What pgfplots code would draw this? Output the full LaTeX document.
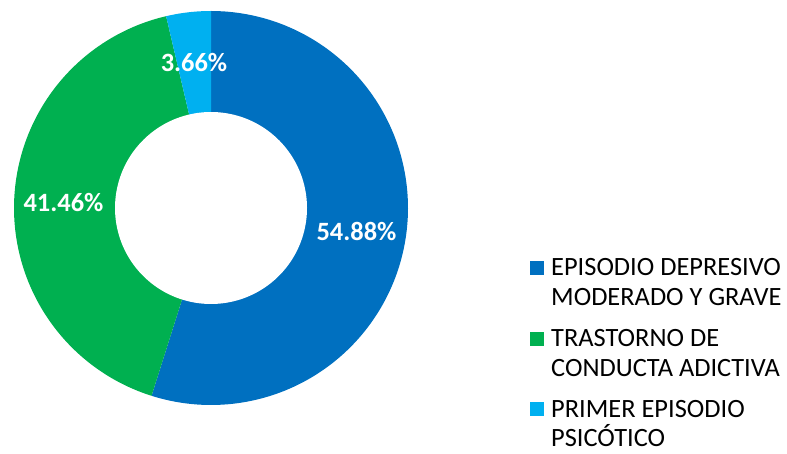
\documentclass[border=0pt]{standalone}
\usepackage{pgfplots}
\usepackage{pgfplotstable}
\usepackage{fontspec}
\setmainfont{Carlito}
\pgfplotsset{compat=1.18}
\definecolor{cblue}{HTML}{0070C0}
\definecolor{cgreen}{HTML}{00B050}
\definecolor{clight}{HTML}{00B0F0}
\pgfplotstableread{
label value
A 54.88
B 41.46
C 3.66
}\piedata
\pgfplotstablegetelem{0}{value}\of\piedata \edef\va{\pgfplotsretval}
\pgfplotstablegetelem{1}{value}\of\piedata \edef\vb{\pgfplotsretval}
\pgfplotstablegetelem{2}{value}\of\piedata \edef\vc{\pgfplotsretval}
\pgfmathsetmacro{\aA}{90}
\pgfmathsetmacro{\aB}{90-3.6*\va}
\pgfmathsetmacro{\aC}{\aB-3.6*\vb}
\pgfmathsetmacro{\aD}{\aC-3.6*\vc}
\begin{document}
\begin{tikzpicture}
\begin{axis}[
  scale only axis, width=787bp, height=454bp,
  xmin=0, xmax=787, ymin=0, ymax=454,
  axis lines=none, clip=false,
]
\addplot[draw=none, fill=cblue, domain=\aB:\aA, samples=150, variable=\t]
  ({211+197*cos(t)},{246+197*sin(t)}) -- (axis cs:211,246) -- cycle;
\addplot[draw=none, fill=cgreen, domain=\aC:\aB, samples=150, variable=\t]
  ({211+197*cos(t)},{246+197*sin(t)}) -- (axis cs:211,246) -- cycle;
\addplot[draw=none, fill=clight, domain=\aD:\aC, samples=30, variable=\t]
  ({211+197*cos(t)},{246+197*sin(t)}) -- (axis cs:211,246) -- cycle;
\addplot[draw=none, fill=white, domain=0:360, samples=180, variable=\t]
  ({211+96*cos(t)},{246+96*sin(t)}) -- cycle;
\begin{scope}[every node/.style={font=\fontsize{26.5}{30}\selectfont\bfseries, text=white, inner sep=0pt}]
\node at (axis cs:356.5,223) {54.88\%};
\node at (axis cs:63.5,251) {41.46\%};
\node at (axis cs:194,391) {3.66\%};
\end{scope}
\begin{scope}[every node/.style={font=\fontsize{26.5}{30}\selectfont, text=black, inner sep=0pt, anchor=base west}]
\fill[cblue] (axis cs:530,179) rectangle (axis cs:544,193);
\node at (axis cs:551,178) {EPISODIO DEPRESIVO};
\node at (axis cs:551,148) {MODERADO Y GRAVE};
\fill[cgreen] (axis cs:530,108) rectangle (axis cs:544,122);
\node at (axis cs:551,107) {TRASTORNO DE};
\node at (axis cs:551,77) {CONDUCTA ADICTIVA};
\fill[clight] (axis cs:530,38) rectangle (axis cs:544,52);
\node at (axis cs:551,36) {PRIMER EPISODIO};
\node at (axis cs:551,8) {PSICÓTICO};
\end{scope}
\end{axis}
\pgfresetboundingbox
\useasboundingbox (0,0) rectangle (787bp,454bp);
\end{tikzpicture}
\end{document}
